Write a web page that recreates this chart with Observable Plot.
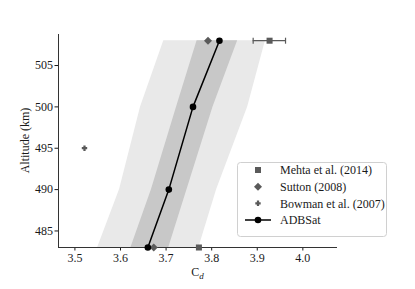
<!DOCTYPE html>
<html>
<head>
<meta charset="utf-8">
<script src="https://cdn.jsdelivr.net/npm/d3@7"></script>
<script src="https://cdn.jsdelivr.net/npm/@observablehq/plot@0.6"></script>
<style>
  html, body { margin: 0; padding: 0; background: #fff; }
  #chart { width: 415px; height: 289px; }
</style>
</head>
<body>
<div id="chart"></div>
<script>
// ---- data ----
const altitudes = [483, 490, 500, 508];
const adbsatCd  = [3.660, 3.706, 3.759, 3.817];
const outerLow  = [3.550, 3.598, 3.644, 3.695];
const outerHigh = [3.772, 3.811, 3.879, 3.918];
const innerLow  = [3.623, 3.668, 3.723, 3.768];
const innerHigh = [3.706, 3.746, 3.803, 3.857];

const mehtaAlt = [508, 483];
const mehtaCd  = [3.927, 3.772];
const mehtaErrAlt  = [508];
const mehtaErrLow  = [3.891];
const mehtaErrHigh = [3.962];

const suttonAlt = [508, 483];
const suttonCd  = [3.792, 3.673];

const bowmanAlt = [495];
const bowmanCd  = [3.521];

const xTicks = [3.5, 3.6, 3.7, 3.8, 3.9, 4.0];
const yTicks = [485, 490, 495, 500, 505];
const xDomain = [3.464, 4.076];
const yDomain = [483, 508.75];

const seriesNames = ["Mehta et al. (2014)", "Sutton (2008)", "Bowman et al. (2007)", "ADBSat"];

// ---- tables ----
const adb = altitudes.map((a, i) => ({alt: a, cd: adbsatCd[i], oLo: outerLow[i], oHi: outerHigh[i], iLo: innerLow[i], iHi: innerHigh[i]}));
const mehta = mehtaAlt.map((a, i) => ({alt: a, cd: mehtaCd[i]}));
const mehtaErr = mehtaErrAlt.map((a, i) => ({alt: a, lo: mehtaErrLow[i], hi: mehtaErrHigh[i]}));
const sutton = suttonAlt.map((a, i) => ({alt: a, cd: suttonCd[i]}));
const bowman = bowmanAlt.map((a, i) => ({alt: a, cd: bowmanCd[i]}));

const markerGray = "#5a5a5a";
const capSymbol = {draw(ctx, size) { const h = Math.sqrt(size / Math.PI); ctx.moveTo(0, -h); ctx.lineTo(0, h); }};
const filledPlus = {draw(ctx, size) {
  const r = Math.sqrt(size / Math.PI), t = r / 2.4;
  ctx.moveTo(-t, -r); ctx.lineTo(t, -r); ctx.lineTo(t, -t); ctx.lineTo(r, -t); ctx.lineTo(r, t);
  ctx.lineTo(t, t); ctx.lineTo(t, r); ctx.lineTo(-t, r); ctx.lineTo(-t, t); ctx.lineTo(-r, t);
  ctx.lineTo(-r, -t); ctx.lineTo(-t, -t); ctx.closePath();
}};

const chart = Plot.plot({
  width: 415,
  height: 289,
  marginLeft: 58,
  marginRight: 78,
  marginTop: 34,
  marginBottom: 42,
  style: {fontFamily: "'Liberation Serif', 'DejaVu Serif', serif", fontSize: "12px", color: "#1a1a1a", background: "#fff"},
  x: {domain: xDomain, ticks: xTicks, tickFormat: d3.format(".1f"), label: null, tickSize: 3.5, tickPadding: 2},
  y: {domain: yDomain, ticks: yTicks, label: null, tickSize: 3.5, tickPadding: 2},
  marks: [
    Plot.areaX(adb, {y: "alt", x1: "oLo", x2: "oHi", fill: "#e9e9e9"}),
    Plot.areaX(adb, {y: "alt", x1: "iLo", x2: "iHi", fill: "#c8c8c8"}),
    Plot.ruleX([xDomain[0]], {stroke: "#333", strokeWidth: 1}),
    Plot.ruleY([yDomain[0]], {stroke: "#333", strokeWidth: 1}),
    Plot.ruleY(mehtaErr, {y: "alt", x1: "lo", x2: "hi", stroke: markerGray, strokeWidth: 1.2}),
    Plot.dot(mehtaErr, {y: "alt", x: "lo", symbol: capSymbol, r: 3, stroke: markerGray, strokeWidth: 1.2}),
    Plot.dot(mehtaErr, {y: "alt", x: "hi", symbol: capSymbol, r: 3, stroke: markerGray, strokeWidth: 1.2}),
    Plot.dot(mehta, {x: "cd", y: "alt", symbol: "square", r: 3.4, fill: markerGray}),
    Plot.dot(sutton, {x: "cd", y: "alt", symbol: "diamond2", r: 3.6, fill: markerGray}),
    Plot.dot(bowman, {x: "cd", y: "alt", symbol: filledPlus, r: 2.7, fill: markerGray}),
    Plot.line(adb, {x: "cd", y: "alt", stroke: "#000", strokeWidth: 1.5}),
    Plot.dot(adb, {x: "cd", y: "alt", r: 3.3, fill: "#000"})
  ]
});

document.getElementById("chart").appendChild(chart);

// ---- axis labels and legend ----
const svg = d3.select(chart);
svg.append("text")
  .attr("transform", "translate(25,140.5) rotate(-90)")
  .attr("text-anchor", "middle").attr("dy", "0.35em")
  .attr("fill", "#1a1a1a").style("font-size", "12px")
  .text("Altitude (km)");

const xl = svg.append("text")
  .attr("x", (58 + 415 - 78) / 2).attr("y", 276)
  .attr("text-anchor", "middle")
  .attr("fill", "#1a1a1a")
  .style("font-size", "12px");
xl.append("tspan").text("C");
xl.append("tspan").attr("font-style", "italic").attr("font-size", "9px").attr("dy", 3).text("d");

const lg = svg.append("g");
lg.append("rect").attr("x", 237.5).attr("y", 162.5).attr("width", 149).attr("height", 74)
  .attr("rx", 3).attr("fill", "#fff").attr("fill-opacity", 0.85).attr("stroke", "#d0d0d0").attr("stroke-width", 1);
const rowY = [170, 186.7, 203.3, 220];
const mx = 258;
const sq = d3.symbol(d3.symbolSquare, 3.4 * 3.4 * Math.PI)();
const dm = d3.symbol(d3.symbolDiamond2, 3.6 * 3.6 * Math.PI)();
const pl = d3.symbol(filledPlus, 2.7 * 2.7 * Math.PI)();
lg.append("path").attr("d", sq).attr("transform", `translate(${mx},${rowY[0]})`).attr("fill", markerGray);
lg.append("path").attr("d", dm).attr("transform", `translate(${mx},${rowY[1]})`).attr("fill", markerGray);
lg.append("path").attr("d", pl).attr("transform", `translate(${mx},${rowY[2]})`).attr("fill", markerGray);
lg.append("line").attr("x1", 245).attr("x2", 271).attr("y1", rowY[3]).attr("y2", rowY[3]).attr("stroke", "#000").attr("stroke-width", 1.5);
lg.append("circle").attr("cx", mx).attr("cy", rowY[3]).attr("r", 3.3).attr("fill", "#000");
seriesNames.forEach((n, i) => {
  lg.append("text").attr("x", 280).attr("y", rowY[i]).attr("dy", "0.35em")
    .attr("text-anchor", "start")
    .attr("fill", "#1a1a1a").style("font-size", "12px").text(n);
});
</script>
</body>
</html>
